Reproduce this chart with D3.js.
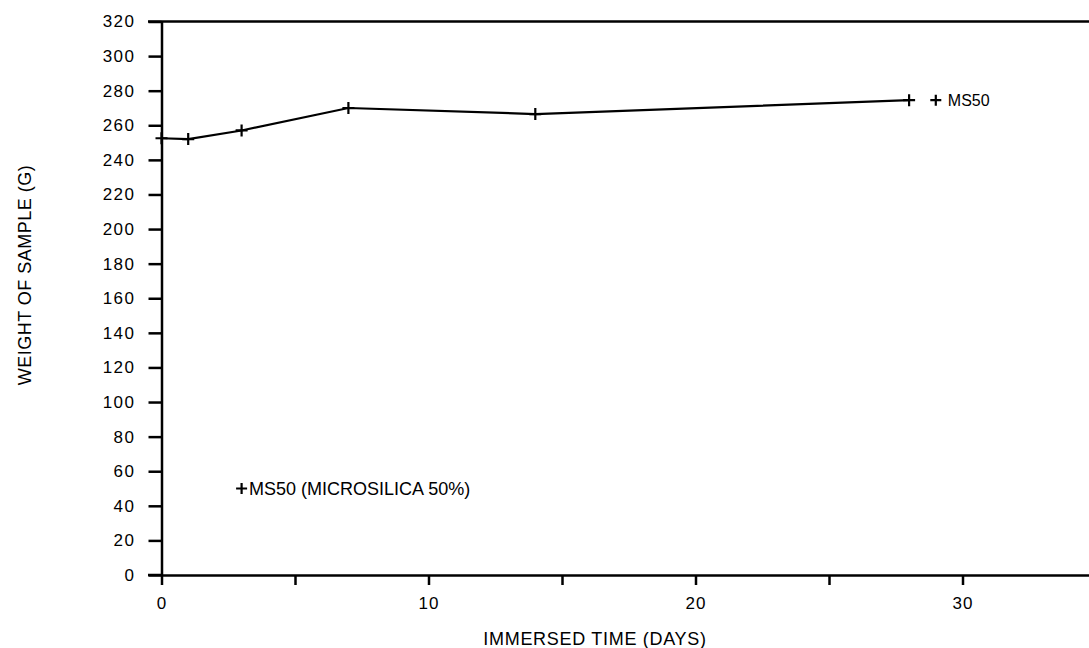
<!DOCTYPE html>
<html>
<head>
<meta charset="utf-8">
<script src="https://cdn.jsdelivr.net/npm/d3@7"></script>
<style>
  html, body { margin: 0; padding: 0; background: #fff; }
  svg { display: block; }
  text { font-family: "Liberation Sans", Arial, sans-serif; fill: #000; }
</style>
</head>
<body>
<svg id="chart" width="1089" height="648"></svg>
<script>
// ---- data ----
const days = [0, 1, 3, 7, 14, 28];
const weightMS50 = [252.5, 252, 257, 270, 266.5, 274.5];
const seriesName = "MS50";
const legendLabel = "MS50 (MICROSILICA 50%)";
const legendPos = [3, 50];          // data coords of the in-plot legend marker
const endLabelDay = 29;             // day of the end label marker
const yTicks = [0, 20, 40, 60, 80, 100, 120, 140, 160, 180, 200, 220, 240, 260, 280, 300, 320];
const xTicks = [0, 5, 10, 15, 20, 25, 30, 35];
const xTickLabels = [0, 10, 20, 30];
const xTitle = "IMMERSED TIME (DAYS)";
const yTitle = "WEIGHT OF SAMPLE (G)";

// ---- layout ----
const svg = d3.select("#chart");
const x = d3.scaleLinear().domain([0, 35]).range([161.5, 1096]);
const y = d3.scaleLinear().domain([0, 320]).range([575, 21.5]);

// top frame line
svg.append("line")
  .attr("x1", 148).attr("x2", x(35))
  .attr("y1", y(320)).attr("y2", y(320))
  .attr("stroke", "#000").attr("stroke-width", 2.5);

// y axis
const gy = svg.append("g")
  .attr("transform", `translate(${x(0)},0)`)
  .call(d3.axisLeft(y).tickValues(yTicks).tickSize(13).tickPadding(13).tickSizeOuter(0));
gy.select(".domain").attr("stroke", "#000").attr("stroke-width", 2.5);
gy.selectAll(".tick line").attr("stroke", "#000").attr("stroke-width", 2.5);
gy.selectAll(".tick text")
  .style("font-size", "17px")
  .style("letter-spacing", "1.5px")
  .attr("font-family", null);

// x axis
const gx = svg.append("g")
  .attr("transform", `translate(0,${y(0)})`)
  .call(d3.axisBottom(x).tickValues(xTicks).tickSize(10).tickPadding(11.5).tickSizeOuter(0)
    .tickFormat(d => xTickLabels.includes(d) ? String(d) : ""));
gx.select(".domain").attr("stroke", "#000").attr("stroke-width", 2.5);
gx.selectAll(".tick line").attr("stroke", "#000").attr("stroke-width", 2.5);
gx.selectAll(".tick text")
  .style("font-size", "17px")
  .style("letter-spacing", "1px")
  .attr("font-family", null);
// extend x axis line left to meet the y-tick at 0
svg.append("line")
  .attr("x1", 148).attr("x2", x(0))
  .attr("y1", y(0)).attr("y2", y(0))
  .attr("stroke", "#000").attr("stroke-width", 2.5);

// axis titles
svg.append("text")
  .attr("x", 595).attr("y", 645)
  .attr("text-anchor", "middle")
  .style("font-size", "18px")
  .style("letter-spacing", "0.7px")
  .text(xTitle);

svg.append("text")
  .attr("transform", `translate(31,275) rotate(-90)`)
  .attr("text-anchor", "middle")
  .style("font-size", "18px")
  .style("letter-spacing", "0.5px")
  .text(yTitle);

// data line
const data = days.map((d, i) => ({ d, w: weightMS50[i] }));
svg.append("path")
  .datum(data)
  .attr("fill", "none")
  .attr("stroke", "#000")
  .attr("stroke-width", 2.2)
  .attr("d", d3.line().x(p => x(p.d)).y(p => y(p.w)));

// plus markers
function plus(g, cx, cy, s) {
  g.append("path")
    .attr("d", `M${cx - s},${cy}H${cx + s}M${cx},${cy - s}V${cy + s}`)
    .attr("stroke", "#000").attr("stroke-width", 2.2).attr("fill", "none");
}
const gm = svg.append("g");
data.forEach(p => plus(gm, x(p.d), y(p.w), 6));

// end label
const lastW = weightMS50[weightMS50.length - 1];
plus(gm, x(endLabelDay), y(lastW), 5.5);
svg.append("text")
  .attr("x", x(endLabelDay) + 12).attr("y", y(lastW))
  .attr("dy", "0.36em")
  .style("font-size", "16px")
  .text(seriesName);

// in-plot legend
plus(gm, x(legendPos[0]), y(legendPos[1]), 5.5);
svg.append("text")
  .attr("x", x(legendPos[0]) + 7.5).attr("y", y(legendPos[1]))
  .attr("dy", "0.36em")
  .style("font-size", "18px")
  .text(legendLabel);
</script>
</body>
</html>
